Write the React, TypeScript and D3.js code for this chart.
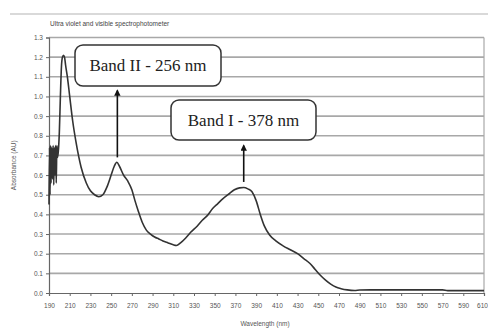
import React, { useEffect, useRef } from "react";
import * as d3 from "d3";

// spectrum
const wavelengths = [
  190, 190.5, 191, 191.5, 192, 192.7, 193.3, 194, 194.6, 195.2, 195.8, 196.4, 197, 197.6, 198.3, 199,
  200, 201, 202, 203, 204, 205, 206, 208, 210, 213, 216, 221, 226, 230, 234, 238, 242, 246, 250, 253,
  255.5, 258, 262, 266, 270, 273, 276, 280, 284, 288, 292, 296, 300, 305, 310, 313, 317, 322, 327,
  333, 338, 343, 348, 353, 358, 364, 369, 374, 378, 382, 386, 390, 394, 398, 403, 409, 416, 423,
  430, 436, 442, 447, 452, 457, 462, 467, 472, 478, 485, 490, 500, 520, 540, 560, 570, 575, 590,
  600, 610,
];
const absorbance = [
  0.45, 0.74, 0.5, 0.75, 0.56, 0.74, 0.58, 0.75, 0.55, 0.74, 0.6, 0.75, 0.56, 0.75, 0.69, 0.72,
  0.82, 1.0, 1.15, 1.2, 1.21, 1.2, 1.16, 1.09, 1.0, 0.87, 0.77, 0.64, 0.56, 0.52, 0.5, 0.49,
  0.5, 0.54, 0.6, 0.645, 0.665, 0.645, 0.6, 0.57, 0.525, 0.47, 0.42, 0.36, 0.32, 0.3, 0.285, 0.275,
  0.265, 0.255, 0.245, 0.242, 0.255, 0.28, 0.31, 0.34, 0.37, 0.395, 0.43, 0.455, 0.48, 0.505, 0.525,
  0.535, 0.537, 0.53, 0.515, 0.47, 0.4, 0.34, 0.295, 0.265, 0.24, 0.22, 0.2, 0.175, 0.15, 0.12,
  0.09, 0.065, 0.045, 0.03, 0.022, 0.016, 0.013, 0.015, 0.016, 0.016, 0.016, 0.016, 0.016, 0.012,
  0.012, 0.012, 0.012,
];

const xTicks = d3.range(190, 611, 20);
const yTicks = d3.range(0, 14).map((i) => i / 10);

const bands = [
  { label: "Band II - 256 nm", nm: 256, from: 0.69, to: 1.03, box: [75, 45, 146, 41] },
  { label: "Band I - 378 nm", nm: 378, from: 0.565, to: 0.75, box: [171, 100, 145, 40] },
];

const W = 488;
const H = 329;

const App = () => {
  const svgRef = useRef<SVGSVGElement | null>(null);

  useEffect(() => {
    const svg = d3.select(svgRef.current);
    svg.selectAll("*").remove();

    const left = 49;
    const right = 484;
    const top = 37.5;
    const bottom = 293;

    const x = d3.scaleLinear().domain([190, 610]).range([left, right]);
    const y = d3.scaleLinear().domain([0, 1.3]).range([bottom, top]);

    svg.append("rect").attr("width", W).attr("height", H).attr("fill", "#fff");

    // frame line above
    svg
      .append("line")
      .attr("x1", 10)
      .attr("x2", W)
      .attr("y1", 14)
      .attr("y2", 14)
      .attr("stroke", "#ccc")
      .attr("stroke-width", 1.5);

    svg
      .append("text")
      .attr("x", 50)
      .attr("y", 26)
      .attr("font-family", "Liberation Sans, Arial, sans-serif")
      .attr("font-size", 6.5)
      .attr("fill", "#444")
      .text("Ultra violet and visible spectrophotometer");

    // gridlines
    svg
      .append("g")
      .selectAll("line")
      .data(yTicks.filter((d) => d > 0))
      .join("line")
      .attr("x1", left)
      .attr("x2", right)
      .attr("y1", (d) => y(d))
      .attr("y2", (d) => y(d))
      .attr("stroke", "#a8a8a8")
      .attr("stroke-width", 1.6);

    svg
      .append("line")
      .attr("x1", right)
      .attr("x2", right)
      .attr("y1", top)
      .attr("y2", bottom)
      .attr("stroke", "#a8a8a8")
      .attr("stroke-width", 1.2);

    // axes
    const yAxis = svg
      .append("g")
      .attr("transform", `translate(${left},0)`)
      .call(d3.axisLeft(y).tickValues(yTicks).tickFormat(d3.format(".1f")).tickSize(3));
    const xAxis = svg
      .append("g")
      .attr("transform", `translate(0,${bottom})`)
      .call(d3.axisBottom(x).tickValues(xTicks).tickSize(3));

    [yAxis, xAxis].forEach((g) => {
      g.selectAll(".domain").attr("stroke", "#666").attr("stroke-width", 1.2);
      g.selectAll(".tick line").attr("stroke", "#666");
      g.selectAll("text")
        .attr("fill", "#555")
        .attr("font-family", "Liberation Sans, Arial, sans-serif")
        .attr("font-size", 6.5);
    });
    xAxis.selectAll("text").attr("dy", "1.4em");
    // last label runs into the edge, as in the source
    xAxis.selectAll("text").filter((d) => d === 610).attr("x", -2);
    yAxis.selectAll("text").attr("x", -6);

    svg
      .append("text")
      .attr("transform", `translate(16,${(top + bottom) / 2}) rotate(-90)`)
      .attr("text-anchor", "middle")
      .attr("font-family", "Liberation Sans, Arial, sans-serif")
      .attr("font-size", 6.5)
      .attr("fill", "#555")
      .text("Absorbance (AU)");

    svg
      .append("text")
      .attr("x", 265)
      .attr("y", 326)
      .attr("text-anchor", "middle")
      .attr("font-family", "Liberation Sans, Arial, sans-serif")
      .attr("font-size", 6.5)
      .attr("fill", "#555")
      .text("Wavelength (nm)");

    // spectrum
    const line = d3
      .line<number>()
      .x((d, i) => x(wavelengths[i]))
      .y((d) => y(d))
      .curve(d3.curveMonotoneX);

    svg
      .append("path")
      .attr("d", line(absorbance))
      .attr("fill", "none")
      .attr("stroke", "#333")
      .attr("stroke-width", 1.6);

    // annotations
    svg
      .append("defs")
      .append("marker")
      .attr("id", "arrow")
      .attr("viewBox", "0 0 10 10")
      .attr("refX", 8)
      .attr("refY", 5)
      .attr("markerWidth", 4)
      .attr("markerHeight", 4)
      .attr("orient", "auto")
      .append("path")
      .attr("d", "M0,0L10,5L0,10z")
      .attr("fill", "#111");

    bands.forEach((b) => {
      svg
        .append("line")
        .attr("x1", x(b.nm))
        .attr("x2", x(b.nm))
        .attr("y1", y(b.from))
        .attr("y2", y(b.to))
        .attr("stroke", "#111")
        .attr("stroke-width", 1.6)
        .attr("marker-end", "url(#arrow)");

      const [bx, by, bw, bh] = b.box;
      svg
        .append("rect")
        .attr("x", bx)
        .attr("y", by)
        .attr("width", bw)
        .attr("height", bh)
        .attr("rx", 8)
        .attr("fill", "#fff")
        .attr("stroke", "#333")
        .attr("stroke-width", 1.5);

      svg
        .append("text")
        .attr("x", bx + bw / 2)
        .attr("y", by + bh / 2 + 5.5)
        .attr("text-anchor", "middle")
        .attr("font-family", "Liberation Serif, Times New Roman, serif")
        .attr("font-size", 17)
        .attr("fill", "#222")
        .text(b.label);
    });
  }, []);

  return (
    <svg
      ref={svgRef}
      width={W}
      height={H}
      style={{ position: "absolute", left: 0, top: 0, display: "block" }}
    ></svg>
  );
};

export default App;
